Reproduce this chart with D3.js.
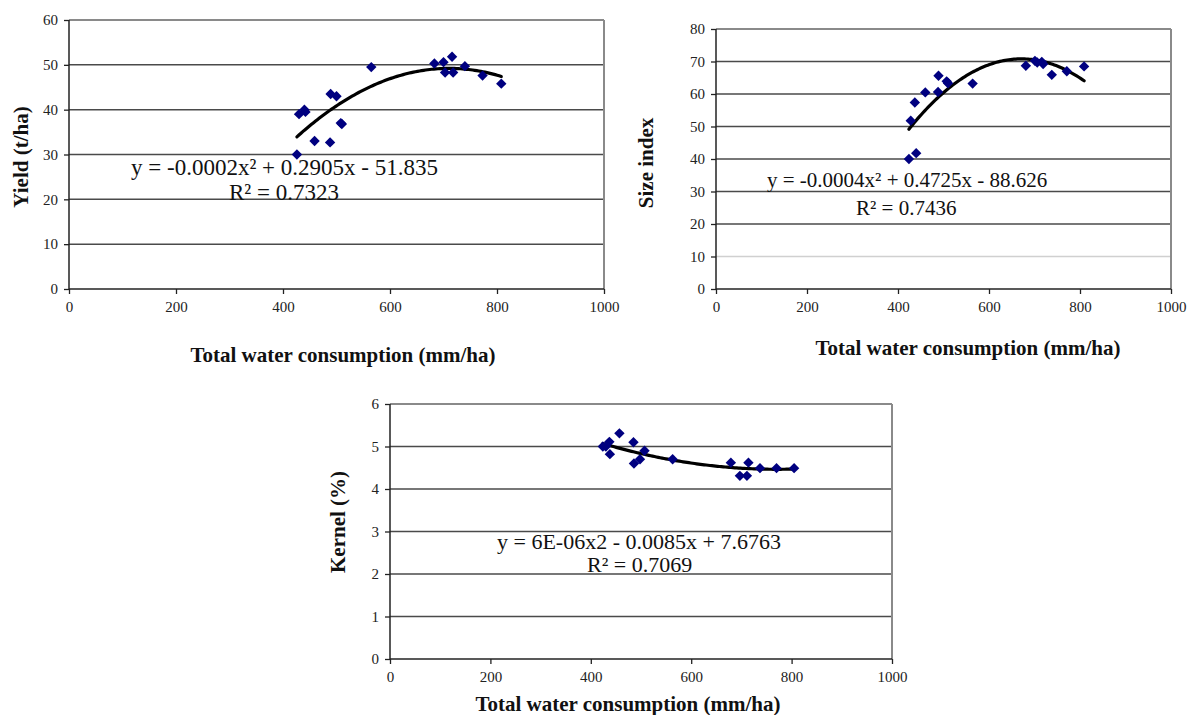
<!DOCTYPE html>
<html><head><meta charset="utf-8">
<script src="https://cdn.jsdelivr.net/npm/d3@7"></script>
<style>
html,body{margin:0;padding:0;background:#fff;}
svg{display:block;}
text{font-family:"Liberation Serif","Times New Roman",serif;}
</style></head>
<body>
<svg id="c" width="1187" height="715"></svg>
<script>
// ---- data ----
const xTicks = [0, 200, 400, 600, 800, 1000];
const xTitle = "Total water consumption (mm/ha)";

const yieldX = [426, 430, 440, 442, 459, 488, 489, 500, 508, 510, 565, 683, 700, 703, 716, 718, 740, 773, 808];
const yieldY = [30, 39, 40, 39.5, 33, 32.7, 43.5, 43, 37, 36.8, 49.5, 50.3, 50.6, 48.3, 51.8, 48.3, 49.7, 47.6, 45.8];
const yieldTicks = [0, 10, 20, 30, 40, 50, 60];
const yieldEq = ["y = -0.0002x\u00B2 + 0.2905x - 51.835", "R\u00B2 = 0.7323"];

const sizeX = [424, 428, 437, 440, 460, 488, 489, 507, 510, 564, 681, 701, 706, 716, 719, 738, 771, 809];
const sizeY = [40, 51.8, 57.4, 41.8, 60.5, 60.6, 65.6, 63.9, 63.3, 63.2, 68.7, 70.2, 69.7, 69.9, 69.2, 65.9, 67, 68.5];
const sizeTicks = [0, 10, 20, 30, 40, 50, 60, 70, 80];
const sizeEq = ["y = -0.0004x\u00B2 + 0.4725x - 88.626", "R\u00B2 = 0.7436"];

const kernelX = [424, 430, 437, 438, 457, 485, 486, 498, 507, 563, 679, 697, 711, 714, 737, 770, 805];
const kernelY = [5.0, 5.0, 5.11, 4.82, 5.31, 5.1, 4.6, 4.7, 4.9, 4.7, 4.62, 4.31, 4.31, 4.62, 4.49, 4.49, 4.49];
const kernelTicks = [0, 1, 2, 3, 4, 5, 6];
const kernelEq = ["y = 6E-06x2 - 0.0085x + 7.6763", "R\u00B2 = 0.7069"];

// ---- helpers ----
function quadFit(xs, ys) {
  let n = xs.length, s = [0,0,0,0,0], t = [0,0,0];
  for (let i = 0; i < n; i++) {
    const x = xs[i], y = ys[i];
    let p = 1;
    for (let k = 0; k < 5; k++) { s[k] += p; p *= x; }
    t[0] += y; t[1] += y * x; t[2] += y * x * x;
  }
  const M = [[s[4], s[3], s[2], t[2]], [s[3], s[2], s[1], t[1]], [s[2], s[1], s[0], t[0]]];
  for (let i = 0; i < 3; i++) {
    let piv = i;
    for (let r = i + 1; r < 3; r++) if (Math.abs(M[r][i]) > Math.abs(M[piv][i])) piv = r;
    [M[i], M[piv]] = [M[piv], M[i]];
    for (let r = 0; r < 3; r++) if (r !== i) {
      const f = M[r][i] / M[i][i];
      for (let k = i; k < 4; k++) M[r][k] -= f * M[i][k];
    }
  }
  return [M[0][3] / M[0][0], M[1][3] / M[1][1], M[2][3] / M[2][2]];
}

const svg = d3.select("#c");
const fmt = d3.format("d");

function chart(cfg) {
  const g = svg.append("g");
  const x = d3.scaleLinear().domain([0, 1000]).range([cfg.x0, cfg.x1]);
  const y = d3.scaleLinear().domain([0, d3.max(cfg.yTicks)]).range([cfg.y1, cfg.y0]);
  const top = d3.max(cfg.yTicks);

  g.selectAll(".grid").data(cfg.yTicks.filter(d => d > 0)).enter().append("line")
    .attr("x1", cfg.x0).attr("x2", cfg.x1)
    .attr("y1", d => y(d)).attr("y2", d => y(d))
    .attr("stroke", d => (cfg.lightGrid && cfg.lightGrid.includes(d)) ? "#d0d0d0" : (d === top ? "#8a8a8a" : "#4a4a4a"))
    .attr("stroke-width", d => d === top ? 2 : 1.5);
  g.append("line").attr("x1", cfg.x1).attr("x2", cfg.x1).attr("y1", cfg.y0).attr("y2", cfg.y1)
    .attr("stroke", "#8a8a8a").attr("stroke-width", 2);

  const ya = g.append("g").attr("transform", `translate(${cfg.x0},0)`)
    .call(d3.axisLeft(y).tickValues(cfg.yTicks).tickFormat(fmt).tickSize(5).tickPadding(6));
  const xa = g.append("g").attr("transform", `translate(0,${cfg.y1})`)
    .call(d3.axisBottom(x).tickValues(xTicks).tickFormat(fmt).tickSize(5).tickPadding(7));
  [ya, xa].forEach(a => {
    a.select(".domain").attr("stroke", "#222").attr("stroke-width", 1.5);
    a.selectAll(".tick line").attr("stroke", "#222").attr("stroke-width", 1.3);
    a.selectAll(".tick text").attr("font-family", "Liberation Serif, serif")
      .attr("font-size", 15).attr("fill", "#222");
  });
  xa.select(".domain").attr("d", `M${cfg.x0},0H${cfg.x1}`);
  ya.select(".domain").attr("d", `M0,${cfg.y0}V${cfg.y1}`);

  const [a, b, c] = quadFit(cfg.xs, cfg.ys);
  const xmin = d3.min(cfg.xs), xmax = d3.max(cfg.xs);
  const pts = d3.range(0, 101).map(i => xmin + (xmax - xmin) * i / 100);
  g.append("path").datum(pts)
    .attr("d", d3.line().x(d => x(d)).y(d => y(a * d * d + b * d + c)))
    .attr("fill", "none").attr("stroke", "#000").attr("stroke-width", 3.2)
    .attr("stroke-linecap", "round");

  const sym = d3.symbol().type(d3.symbolSquare).size(54);
  g.selectAll(".pt").data(cfg.xs.map((d, i) => [d, cfg.ys[i]])).enter().append("path")
    .attr("d", sym)
    .attr("transform", d => `translate(${x(d[0])},${y(d[1])}) rotate(45)`)
    .attr("fill", "#000080");

  g.append("text").attr("x", cfg.eqX).attr("y", cfg.eqY).attr("font-size", cfg.eqSize)
    .attr("fill", "#111").text(cfg.eq[0]);
  g.append("text").attr("x", cfg.r2X).attr("y", cfg.eqY + cfg.eqGap).attr("font-size", cfg.eqSize)
    .attr("fill", "#111").text(cfg.eq[1]);

  g.append("text").attr("x", cfg.xtX).attr("y", cfg.xtY).attr("text-anchor", "middle")
    .attr("font-weight", "bold").attr("font-size", 21).attr("fill", "#111").text(xTitle);
  g.append("text").attr("transform", `translate(${cfg.ytX},${cfg.ytY}) rotate(-90)`)
    .attr("text-anchor", "middle").attr("font-weight", "bold").attr("font-size", 21)
    .attr("fill", "#111").text(cfg.yTitle);
}

chart({x0: 69, x1: 604, y0: 20, y1: 289, xs: yieldX, ys: yieldY, yTicks: yieldTicks,
  eq: yieldEq, eqX: 131, eqY: 175, r2X: 229, eqGap: 25, eqSize: 23,
  xtX: 343, xtY: 362, ytX: 28, ytY: 157, yTitle: "Yield (t/ha)"});

chart({x0: 716, x1: 1171, y0: 29, y1: 289, xs: sizeX, ys: sizeY, yTicks: sizeTicks, lightGrid: [10],
  eq: sizeEq, eqX: 767, eqY: 187, r2X: 856, eqGap: 28, eqSize: 21,
  xtX: 968, xtY: 355, ytX: 653, ytY: 163, yTitle: "Size index"});

chart({x0: 390, x1: 892, y0: 404, y1: 659, xs: kernelX, ys: kernelY, yTicks: kernelTicks,
  eq: kernelEq, eqX: 497, eqY: 549, r2X: 587, eqGap: 23, eqSize: 22,
  xtX: 628, xtY: 711, ytX: 345, ytY: 522, yTitle: "Kernel (%)"});
</script>
</body></html>
